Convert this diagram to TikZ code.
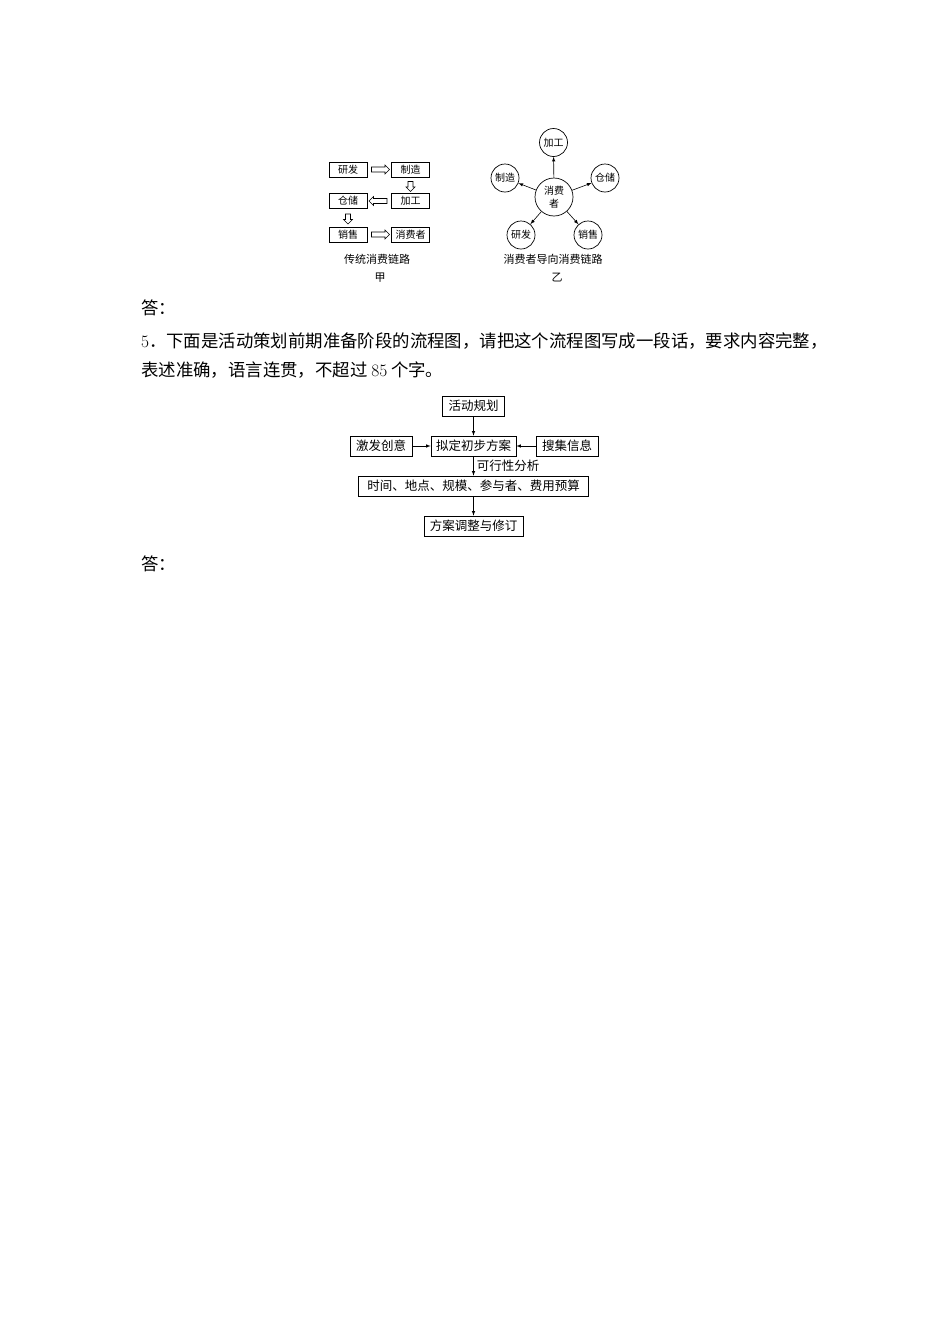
\documentclass[tikz,border=0pt]{standalone}
\usepackage{fontspec}
\newfontfamily\cjk{Noto Sans CJK SC}
\usepackage{tikz}
\usetikzlibrary{arrows,positioning,calc,shapes.arrows}

\begin{document}
\begin{tikzpicture}[x=1pt,y=-1pt,
	every node/.style={font=\cjk},
	chainbox/.style={draw, line width=0.7pt, minimum width=38pt, minimum height=15pt, inner sep=0pt, font=\cjk\fontsize{10}{10}\selectfont},
	hollowarrow/.style={single arrow, draw, line width=0.6pt, inner sep=2.2pt, single arrow head extend=2pt, minimum height=18pt},
	hollowshort/.style={hollowarrow, minimum height=10pt, shape border rotate=270},
	ringnode/.style={circle, draw, line width=0.7pt, minimum size=28pt, inner sep=0pt, font=\cjk\fontsize{10}{13}\selectfont, align=center},
	flowbox/.style={draw, line width=0.7pt, minimum height=20pt, inner xsep=5pt, inner ysep=0pt, font=\cjk\fontsize{12.5}{12.5}\selectfont},
	captext/.style={inner sep=0pt, font=\cjk\fontsize{11}{11}\selectfont},
	bodytext/.style={anchor=west, inner sep=0pt, font=\cjk\fontsize{17.4}{17.4}\selectfont}]

			\fill[white] (0,0) rectangle (950,1344);
			\useasboundingbox (0,0) rectangle (950,1344);

			% jia: traditional chain
			\node[chainbox] (yf1) at (348,169.5) {研发};
			\node[chainbox] (zz1) at (410.5,169.5) {制造};
			\node[chainbox] (jg1) at (410.5,201) {加工};
			\node[chainbox] (cc1) at (348,201) {仓储};
			\node[chainbox] (xs1) at (348,234.5) {销售};
			\node[chainbox] (xf1) at (410.5,234.5) {消费者};
			\node[hollowarrow] (h1) at ($(yf1.east)!0.5!(zz1.west)$) {};
			\node[hollowshort] (h2) at ($(zz1.south)!0.5!(jg1.north)$) {};
			\node[hollowarrow, shape border rotate=180] (h3) at ($(cc1.east)!0.5!(jg1.west)$) {};
			\node[hollowshort] (h4) at ($(cc1.south)!0.5!(xs1.north)$) {};
			\node[hollowarrow] (h5) at ($(xs1.east)!0.5!(xf1.west)$) {};
			\node[captext] (cap1) at (377,259) {传统消费链路};
			\node[captext] (cap1b) at (380,278) {甲};

			% yi: consumer oriented chain
			\node[ringnode, minimum size=38pt] (xf2) at (554,197) {消费\\者};
			\node[ringnode] (jg2) at (553.5,142.5) {加工};
			\node[ringnode] (zz2) at (505,178) {制造};
			\node[ringnode] (cc2) at (605,178) {仓储};
			\node[ringnode] (yf2) at (521,235) {研发};
			\node[ringnode] (xs2) at (588,235) {销售};
			\node[captext] (cap2) at (553,259) {消费者导向消费链路};
			\node[captext] (cap2b) at (557,278) {乙};

			\path[->, line width=0.6pt, >=latex] (xf2) edge (jg2);
			\path[->, line width=0.6pt, >=latex] (xf2) edge (zz2);
			\path[->, line width=0.6pt, >=latex] (xf2) edge (cc2);
			\path[->, line width=0.6pt, >=latex] (xf2) edge (yf2);
			\path[->, line width=0.6pt, >=latex] (xf2) edge (xs2);

			% question text
			\node[bodytext] (ans1) at (141,308) {答：};
			\node[bodytext] (q5a) at (141,341) {{\normalfont 5}．下面是活动策划前期准备阶段的流程图，请把这个流程图写成一段话，要求内容完整，};
			\node[bodytext] (q5b) at (141,370) {表述准确，语言连贯，不超过 {\normalfont 85} 个字。};

			% flow chart
			\node[flowbox, minimum width=62pt] (hd) at (473.5,406) {活动规划};
			\node[flowbox, minimum width=82pt] (nd) at (473.5,446) {拟定初步方案};
			\node[flowbox, minimum width=62pt] (jf) at (381,446) {激发创意};
			\node[flowbox, minimum width=62pt] (sj) at (567,446) {搜集信息};
			\node[flowbox, minimum width=230pt] (sd) at (473.5,486) {时间、地点、规模、参与者、费用预算};
			\node[flowbox, minimum width=99pt] (fa) at (473.5,526) {方案调整与修订};

			\path[->, line width=0.6pt, >=latex] (hd) edge (nd);
			\path[->, line width=0.6pt, >=latex] (jf) edge (nd);
			\path[->, line width=0.6pt, >=latex] (sj) edge (nd);
			\path[->, line width=0.6pt, >=latex] (nd) edge node[right, inner sep=3pt, font=\cjk\fontsize{12.5}{12.5}\selectfont] {可行性分析} (sd);
			\path[->, line width=0.6pt, >=latex] (sd) edge (fa);

			\node[bodytext] (ans2) at (141,564) {答：};
		\end{tikzpicture}
\end{document}
